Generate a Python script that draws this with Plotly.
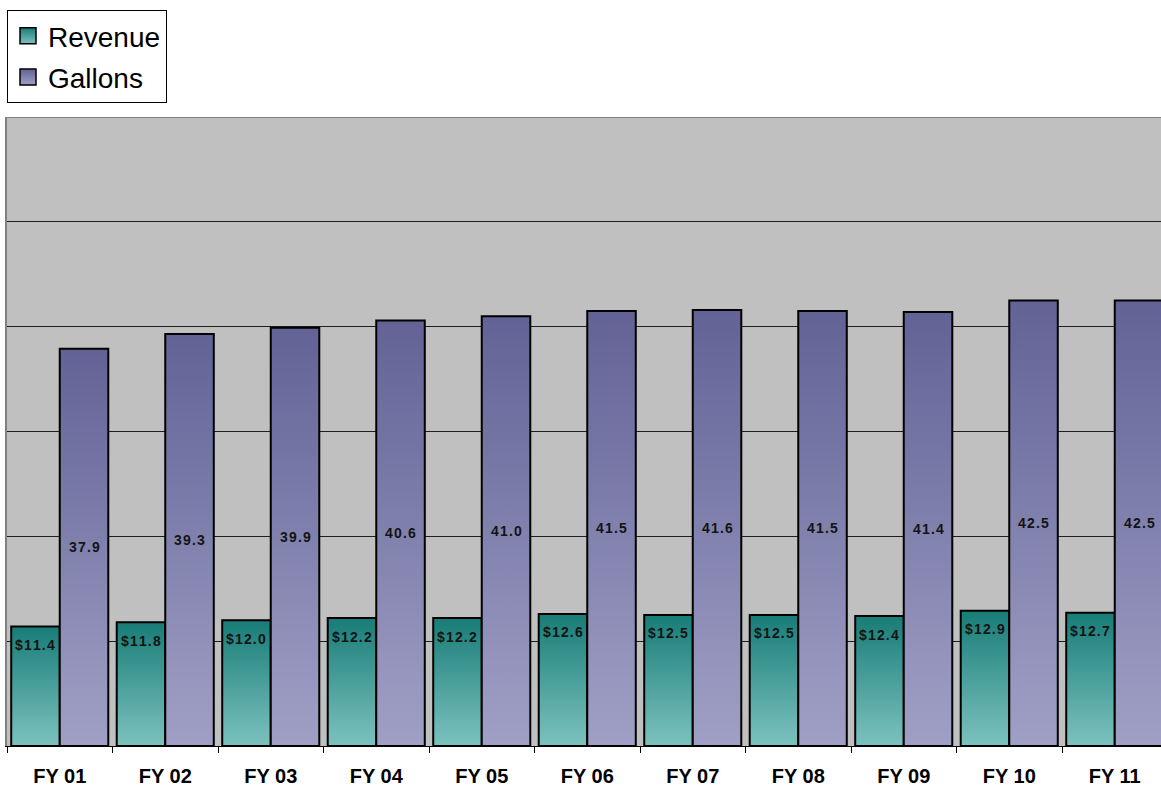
import plotly.graph_objects as go

# Fiscal years and the two measured series
years = ["FY 01", "FY 02", "FY 03", "FY 04", "FY 05", "FY 06",
         "FY 07", "FY 08", "FY 09", "FY 10", "FY 11"]
revenue = [11.4, 11.8, 12.0, 12.2, 12.2, 12.6, 12.5, 12.5, 12.4, 12.9, 12.7]
gallons = [37.9, 39.3, 39.9, 40.6, 41.0, 41.5, 41.6, 41.5, 41.4, 42.5, 42.5]

REV_TOP, REV_BOTTOM = "#187c77", "#7cc2bf"
GAL_TOP, GAL_BOTTOM = "#626296", "#a0a0c6"
BAR_W = 0.46          # bar width as a fraction of one category slot
TXT = "#141414"
LABEL_FONT = dict(family="Arial, Liberation Sans, sans-serif", size=14, color=TXT, weight="bold")

fig = go.Figure()


def spaced(s):
    # loose tracking for the value labels
    return "\u200a".join(s)


def add_bar(xc, value, top, bottom):
    x0, x1 = xc - BAR_W / 2, xc + BAR_W / 2
    fig.add_trace(go.Scatter(
        x=[x0, x0, x1, x1, x0], y=[0, value, value, 0, 0],
        mode="lines", fill="toself",
        fillgradient=dict(type="vertical", start=0, stop=value,
                          colorscale=[[0, bottom], [1, top]]),
        line=dict(color="black", width=2),
        showlegend=False, hoverinfo="skip"))


for i, (r, g) in enumerate(zip(revenue, gallons)):
    add_bar(i - BAR_W / 2, r, REV_TOP, REV_BOTTOM)
    add_bar(i + BAR_W / 2, g, GAL_TOP, GAL_BOTTOM)
    fig.add_annotation(x=i - BAR_W / 2, y=r, yshift=-18.5, text=spaced(f"${r:.1f}"),
                       showarrow=False, xanchor="center", yanchor="middle", font=LABEL_FONT)
    fig.add_annotation(x=i + BAR_W / 2, y=g / 2, text=spaced(f"{g:.1f}"),
                       showarrow=False, xanchor="center", yanchor="middle", font=LABEL_FONT)

# legend entries
for name, top, bottom in [("Revenue", REV_TOP, REV_BOTTOM), ("Gallons", GAL_TOP, GAL_BOTTOM)]:
    fig.add_trace(go.Scatter(
        x=[None], y=[None], mode="markers", name=name, legendgroup=name,
        marker=dict(symbol="square", size=16, color=top,
                    gradient=dict(type="vertical", color=bottom),
                    line=dict(color="black", width=1.5))))

# top border of the plot area
fig.add_shape(type="line", xref="paper", yref="y", x0=0, x1=1, y0=60, y1=60,
              line=dict(color="#808080", width=2), layer="above")

fig.update_layout(
    width=1161, height=790,
    margin=dict(l=7, r=0, t=117, b=44, autoexpand=False),
    paper_bgcolor="white", plot_bgcolor="#c0c0c0",
    font=dict(family="Arial, Liberation Sans, sans-serif", color="black"),
    showlegend=True,
    legend=dict(xref="container", yref="container", x=7 / 1161, y=1 - 10 / 790,
                xanchor="left", yanchor="top", bgcolor="white",
                bordercolor="black", borderwidth=1, tracegroupgap=2,
                font=dict(size=28, color="black")),
    xaxis=dict(range=[-0.5, -0.5 + 1154 / 105.5], tickmode="array",
               tickvals=list(range(len(years))), ticktext=years, ticks="",
               tickfont=dict(size=20, weight="bold", color="black"),
               showgrid=False, zeroline=False, showline=True, linecolor="black", linewidth=1,
               minor=dict(tickmode="array", tickvals=[k - 0.5 for k in range(len(years) + 1)],
                          ticks="outside", ticklen=6, tickcolor="black", tickwidth=1, showgrid=False),
               ticklabelstandoff=12),
    yaxis=dict(range=[0, 60], tickmode="linear", tick0=0, dtick=10, showticklabels=False,
               ticks="", showgrid=True, gridcolor="#1e1e1e", gridwidth=1, zeroline=False,
               showline=True, linecolor="#808080", linewidth=2),
)

fig.write_html("out.html")
